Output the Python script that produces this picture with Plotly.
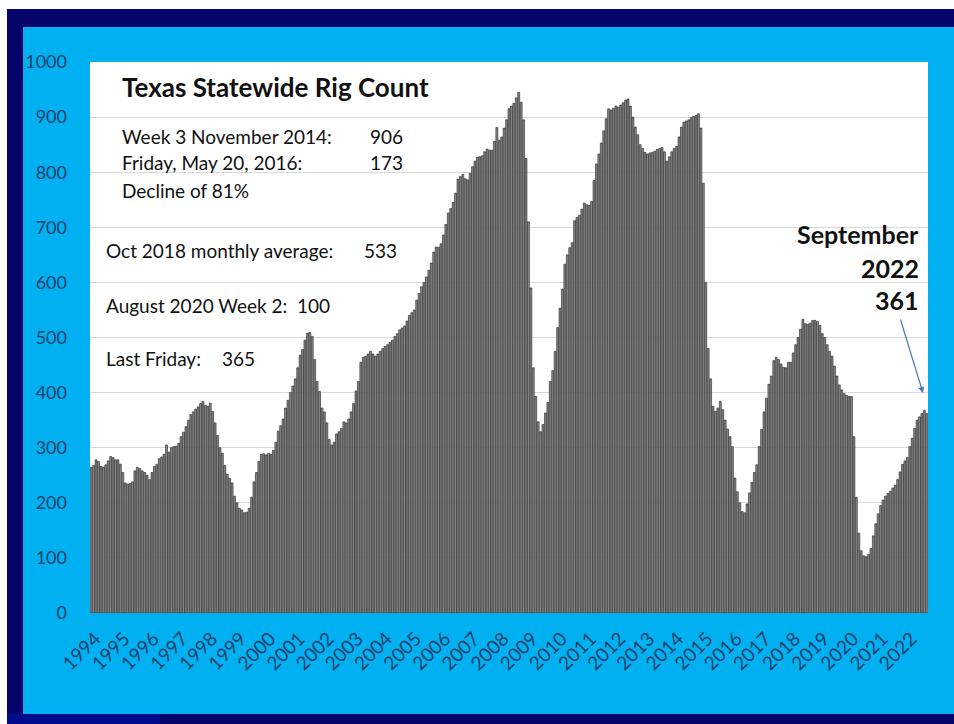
import plotly.graph_objects as go

# ---- data: Texas statewide rig count, monthly ----
y1994 = [264, 268, 278, 275, 266, 265, 269, 276, 284, 282, 278, 278]
y1995 = [270, 255, 236, 234, 235, 238, 258, 264, 262, 258, 255, 250]
y1996 = [242, 255, 266, 270, 280, 283, 288, 305, 292, 300, 302, 303]
y1997 = [308, 320, 328, 338, 350, 360, 365, 370, 374, 380, 384, 377]
y1998 = [375, 381, 366, 345, 322, 300, 290, 268, 252, 244, 236, 212]
y1999 = [200, 190, 187, 182, 183, 190, 210, 238, 255, 275, 288, 289]
y2000 = [287, 290, 288, 295, 310, 330, 340, 352, 372, 386, 400, 412]
y2001 = [425, 445, 468, 478, 495, 508, 509, 502, 460, 420, 402, 372]
y2002 = [365, 345, 315, 305, 310, 325, 329, 335, 347, 345, 352, 365]
y2003 = [380, 403, 420, 455, 464, 466, 470, 475, 470, 466, 470, 475]
y2004 = [480, 484, 487, 491, 495, 502, 507, 514, 517, 521, 530, 540]
y2005 = [545, 550, 568, 580, 592, 600, 610, 622, 635, 655, 664, 664]
y2006 = [670, 686, 705, 726, 734, 745, 762, 787, 792, 796, 788, 786]
y2007 = [798, 810, 820, 827, 828, 830, 837, 842, 840, 840, 856, 881]
y2008 = [858, 864, 880, 895, 915, 920, 925, 935, 945, 927, 895, 825]
y2009 = [710, 590, 445, 393, 347, 329, 342, 363, 382, 420, 440, 475]
y2010 = [518, 553, 588, 633, 650, 663, 672, 712, 718, 722, 733, 744]
y2011 = [741, 740, 747, 785, 815, 833, 853, 875, 897, 915, 913, 916]
y2012 = [920, 918, 922, 926, 931, 933, 920, 900, 882, 868, 850, 843]
y2013 = [836, 833, 835, 836, 838, 841, 843, 845, 837, 820, 828, 837]
y2014 = [843, 847, 864, 882, 891, 893, 895, 899, 901, 903, 906, 880]
y2015 = [780, 600, 480, 425, 375, 366, 372, 384, 369, 350, 334, 320]
y2016 = [302, 245, 220, 200, 184, 182, 198, 218, 237, 255, 269, 302]
y2017 = [333, 365, 390, 415, 430, 458, 464, 460, 452, 446, 445, 455]
y2018 = [455, 472, 487, 500, 515, 533, 525, 524, 526, 531, 531, 529]
y2019 = [522, 507, 500, 487, 475, 466, 448, 430, 414, 405, 398, 395]
y2020 = [393, 393, 320, 210, 145, 113, 104, 102, 106, 117, 140, 162]
y2021 = [180, 195, 205, 212, 217, 221, 227, 232, 242, 256, 270, 276]
y2022 = [282, 302, 317, 335, 350, 356, 362, 368, 362]

years = [str(y) for y in range(1994, 2023)]
rig_counts = (y1994 + y1995 + y1996 + y1997 + y1998 + y1999 + y2000 + y2001 +
              y2002 + y2003 + y2004 + y2005 + y2006 + y2007 + y2008 + y2009 +
              y2010 + y2011 + y2012 + y2013 + y2014 + y2015 + y2016 + y2017 +
              y2018 + y2019 + y2020 + y2021 + y2022)
month_index = list(range(len(rig_counts)))
year_ticks = [12 * k for k in range(len(years))]

W, H = 954, 724
L, R, T, B = 90, 928, 62, 613    # plot area in pixels


def px(x):
    return (x - L) / (R - L)


def py(y):
    return (B - y) / (B - T)


fig = go.Figure()
fig.add_trace(go.Bar(
    x=month_index, y=rig_counts,
    marker=dict(color="#8a8a8a", line=dict(color="#202020", width=0.6)),
    hoverinfo="y",
))


def box(x0, x1, y0, y1, color, layer="below"):
    return dict(type="rect", xref="paper", yref="paper", x0=px(x0), x1=px(x1),
                y0=py(y1), y1=py(y0), fillcolor=color, line=dict(width=0), layer=layer)


NAVY = "#04046a"
LIGHT = "#00b0f0"
shapes = [
    box(0, W, 0, 9, "#ffffff"),                   # white top margin
    box(0, 7, 0, H, "#ffffff"),                   # white left margin
    box(7, W, 9, 27, NAVY),                       # navy top band
    box(7, 23, 9, H, NAVY),                       # navy left band
    box(7, W, 714, H, NAVY),                      # navy bottom band
    box(7, 160, 714, H, "#000c8c"),               # lighter navy bottom-left
    box(L, R, T, B, "#ffffff"),                   # white plot area
    box(930, W, 27, 714, LIGHT, layer="above"),   # light-blue right margin
]

txt = "#111111"
font_main = "Lato, 'Open Sans', sans-serif"
ann = []


def note(x, y, text, size=19, bold=False, xanchor="left"):
    ann.append(dict(x=px(x), y=py(y), xref="paper", yref="paper",
                    text=("<b>%s</b>" % text) if bold else text,
                    showarrow=False, xanchor=xanchor, yanchor="middle",
                    font=dict(family=font_main, size=size, color=txt)))


note(120, 87, "Texas Statewide Rig Count", size=26, bold=True)
note(120, 136, "Week 3 November 2014:")
note(368, 136, "906")
note(120, 163, "Friday, May 20, 2016:")
note(368, 163, "173")
note(120, 190, "Decline of 81%")
note(104, 250, "Oct 2018 monthly average:")
note(362, 250, "533")
note(104, 305, "August 2020 Week 2:  100")
note(104, 358, "Last Friday:")
note(220, 358, "365")
note(921, 234, "September", size=25, bold=True, xanchor="right")
note(921, 268, "2022", size=25, bold=True, xanchor="right")
note(921, 300, "361", size=25, bold=True, xanchor="right")

ann.append(dict(x=px(923), y=py(393), xref="paper", yref="paper", text="",
                showarrow=True, ax=-23, ay=-75, arrowhead=2, arrowsize=1,
                arrowwidth=1.2, arrowcolor="#4a78b8"))

tick_color = "#15406a"
fig.update_layout(
    width=W, height=H,
    margin=dict(l=L, r=W - R, t=T, b=H - B, pad=0),
    paper_bgcolor=LIGHT,
    plot_bgcolor="rgba(0,0,0,0)",
    bargap=0.2,
    showlegend=False,
    shapes=shapes,
    annotations=ann,
    font=dict(family=font_main),
    xaxis=dict(
        range=[-0.5, len(rig_counts) - 0.5],
        tickmode="array", tickvals=year_ticks, ticktext=years,
        tickangle=-45, showgrid=False, zeroline=False, showline=False,
        ticks="", ticklabelstandoff=10, ticklabelshift=4,
        tickfont=dict(family=font_main, size=19, color=tick_color),
    ),
    yaxis=dict(
        range=[0, 1000], dtick=100, showgrid=True, gridcolor="#d9d9d9", gridwidth=1,
        zeroline=False, showline=False, ticks="", ticklabelstandoff=22,
        tickfont=dict(family=font_main, size=18, color=tick_color),
    ),
)

fig.write_html(
    "out.html",
    config={"displayModeBar": False},
    post_script=("document.body.style.margin='0';"
                 "document.body.style.overflow='hidden';"
                 "document.body.style.background='#00b0f0';"
                 "document.documentElement.style.background='#00b0f0';"),
)
